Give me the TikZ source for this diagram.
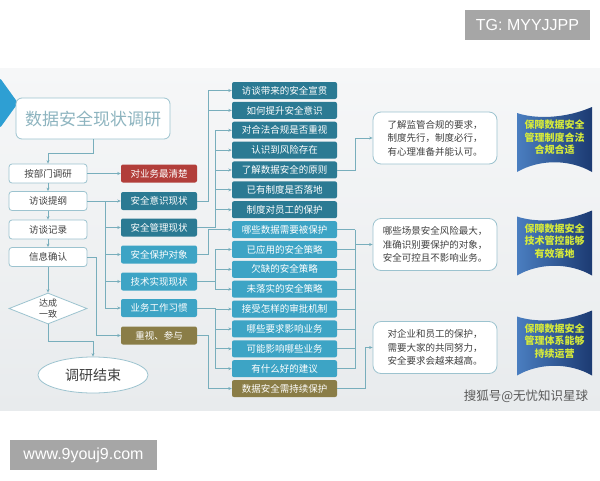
\documentclass[tikz,border=0pt]{standalone}
\usepackage{fontspec}
\setmainfont{Liberation Sans}
\newfontfamily\cjk{Noto Sans CJK SC}
\usetikzlibrary{shapes.geometric,arrows.meta}

\definecolor{darkteal}{HTML}{2B7A93}
\definecolor{liteteal}{HTML}{3DA4C5}
\definecolor{olivebox}{HTML}{8A7D47}
\definecolor{brickred}{HTML}{B23E3A}
\definecolor{lineteal}{HTML}{78AEBC}
\definecolor{boxedge}{HTML}{9CC3CF}
\definecolor{titletext}{HTML}{8DB4BF}
\definecolor{bannerdark}{HTML}{1C3A72}
\definecolor{bannerlite}{HTML}{4A7EC0}
\definecolor{bannertext}{HTML}{D6EA3A}
\definecolor{markgray}{HTML}{A6A6A6}
\definecolor{chevblue}{HTML}{2E9FD3}
\definecolor{panetop}{HTML}{F6F7F8}
\definecolor{panebot}{HTML}{E8EBED}

\tikzset{
	flowbox/.style={draw=boxedge, fill=white, line width=0.8pt, rounded corners=3pt,
		minimum width=78pt, minimum height=19pt, inner sep=0pt,
		font=\cjk\fontsize{9.5}{10}\selectfont, text=black!75},
	catbox/.style={rounded corners=2pt, minimum width=76pt, minimum height=18pt, inner sep=0pt,
		font=\cjk\fontsize{9.5}{10}\selectfont, text=white},
	itembox/.style={rounded corners=2pt, minimum width=105pt, minimum height=17pt, inner sep=0pt,
		font=\cjk\fontsize{9.5}{10}\selectfont, text=white},
	notebox/.style={draw=boxedge, fill=white, line width=0.8pt, rounded corners=8pt,
		minimum width=124pt, minimum height=52pt, align=left,
		font=\cjk\fontsize{9.5}{13.5}\selectfont, text=black!75},
	bannertxt/.style={align=center, font=\cjk\bfseries\fontsize{10}{12.5}\selectfont, text=bannertext},
	markbox/.style={fill=markgray, text=white, minimum height=30pt, inner sep=0pt,
		font=\fontsize{16}{16}\selectfont},
	link/.style={draw=lineteal, line width=0.8pt},
	arr/.style={link, -{Stealth[length=3.5pt,width=3pt]}},
	banner/.pic={
		\shade[left color=bannerlite, right color=bannerdark]
			(-37.5,-26) .. controls (-20,-20) and (10,-20) .. (37.5,-32)
			-- (37.5,33) .. controls (15,20) and (-15,20) .. (-37.5,33) -- cycle;
	}
}

\begin{document}
\begin{tikzpicture}[x=1pt,y=-1pt]
	\useasboundingbox (0,0) rectangle (600,480);
	\shade[top color=panetop, bottom color=panebot] (0,68) rectangle (600,410);
	\fill[chevblue, rounded corners=2pt] (0,78) -- (18,103) -- (0,128) -- cycle;

	% left column
	\node[draw=boxedge, fill=white, line width=0.8pt, rounded corners=6pt,
		minimum width=154pt, minimum height=41pt,
		font=\cjk\fontsize{17}{17}\selectfont, text=titletext] (title) at (93,118.5) {数据安全现状调研};
	\node[flowbox] (dept) at (48,173.5) {按部门调研};
	\node[flowbox] (outline) at (48,201) {访谈提纲};
	\node[flowbox] (record) at (48,229.5) {访谈记录};
	\node[flowbox] (confirm) at (48,257) {信息确认};
	\node[draw=boxedge, fill=white, line width=0.8pt, shape=diamond, aspect=2.5,
		minimum width=78pt, minimum height=31pt, inner sep=0pt, align=center,
		font=\cjk\fontsize{9}{10.5}\selectfont, text=black!75] (agree) at (48,308.5) {达成\\一致};
	\node[draw=boxedge, fill=white, line width=0.8pt, shape=ellipse,
		minimum width=110pt, minimum height=36pt, inner sep=0pt,
		font=\cjk\fontsize{14}{14}\selectfont, text=black!75] (finish) at (93,375) {调研结束};

	% categories
	\node[catbox, fill=brickred] (clear) at (159,173.5) {对业务最清楚};
	\node[catbox, fill=darkteal] (aware) at (159,201) {安全意识现状};
	\node[catbox, fill=darkteal] (manage) at (159,227.5) {安全管理现状};
	\node[catbox, fill=liteteal] (protect) at (159,254.5) {安全保护对象};
	\node[catbox, fill=liteteal] (tech) at (159,281.5) {技术实现现状};
	\node[catbox, fill=liteteal] (habit) at (159,308) {业务工作习惯};
	\node[catbox, fill=olivebox] (value) at (159,335.5) {重视、参与};

	% items
	\foreach \txt/\col [count=\i] in {访谈带来的安全宣贯/darkteal, 如何提升安全意识/darkteal,
		对合法合规是否重视/darkteal, 认识到风险存在/darkteal, 了解数据安全的原则/darkteal,
		已有制度是否落地/darkteal, 制度对员工的保护/darkteal, 哪些数据需要被保护/liteteal,
		已应用的安全策略/liteteal, 欠缺的安全策略/liteteal, 未落实的安全策略/liteteal,
		接受怎样的审批机制/liteteal, 哪些要求影响业务/liteteal, 可能影响哪些业务/liteteal,
		有什么好的建议/liteteal, 数据安全需持续保护/olivebox} {
		\node[itembox, fill=\col] (item\i) at (284.5, 70.63+19.87*\i) {\txt};
	}

	% notes
	\node[notebox] (note1) at (435,138) {了解监管合规的要求，\\制度先行，制度必行，\\有心理准备并能认可。};
	\node[notebox] (note2) at (435,244.5) {哪些场景安全风险最大，\\准确识别要保护的对象，\\安全可控且不影响业务。};
	\node[notebox] (note3) at (435,347.5) {对企业和员工的保护，\\需要大家的共同努力，\\安全要求会越来越高。};

	% banners
	\pic at (554.5,139) {banner};
	\pic at (554.5,242.5) {banner};
	\pic at (554.5,342.5) {banner};
	\node[bannertxt] (goal1) at (554.5,137.5) {保障数据安全\\管理制度合法\\合规合适};
	\node[bannertxt] (goal2) at (554.5,241) {保障数据安全\\技术管控能够\\有效落地};
	\node[bannertxt] (goal3) at (554.5,341) {保障数据安全\\管理体系能够\\持续运营};

	% left flow links
	\draw[arr] (title.south) -- ++(0,14) -| (dept.north);
	\draw[arr] (dept) -- (outline);
	\draw[arr] (outline) -- (record);
	\draw[arr] (record) -- (confirm);
	\draw[arr] (confirm) -- (agree);
	\draw[arr] (agree.south) -- ++(0,17) -| (finish.north);
	\draw[arr] (dept) -- (clear);

	\coordinate (lbus) at (105,0);
	\draw[link] (outline.east) -- (lbus |- outline.east) -- (lbus |- habit.west);
	\foreach \c in {aware,manage,protect,tech,habit}
		\draw[arr] (lbus |- \c.west) -- (\c.west);
	\draw[arr] (confirm.east) -- ++(9,0) |- (value.west);

	% categories to items
	\coordinate (bus1) at (208,0);
	\coordinate (bus2) at (215,0);
	\draw[link] (aware.east) -| (bus1 |- item1.west);
	\foreach \i in {1,2}
		\draw[arr] (bus1 |- item\i.west) -- (item\i.west);
	\draw[link] (manage.east) -| (bus2 |- item3.west);
	\foreach \i in {3,...,7}
		\draw[arr] (bus2 |- item\i.west) -- (item\i.west);
	\draw[arr] (protect.east) -| (bus1 |- item8.west) -- (item8.west);
	\draw[link] (tech.east) -- (bus2 |- tech.east);
	\draw[link] (bus2 |- item9.west) -- (bus2 |- item11.west);
	\foreach \i in {9,10,11}
		\draw[arr] (bus2 |- item\i.west) -- (item\i.west);
	\draw[link] (habit.east) -- (bus2 |- habit.east) -- (bus2 |- item15.west);
	\foreach \i in {12,...,15}
		\draw[arr] (bus2 |- item\i.west) -- (item\i.west);
	\draw[arr] (value.east) -- (bus1 |- value.east) |- (item16.west);

	% items to notes
	\coordinate (rbus) at (355,0);
	\draw[arr] (item5.east) -- (rbus |- item5.east) |- (note1.west);
	\foreach \i in {8,...,15}
		\draw[link] (item\i.east) -- (rbus |- item\i.east);
	\draw[link] (rbus |- item8.east) -- (rbus |- item15.east);
	\draw[arr] (rbus |- note2.west) -- (note2.west);
	\draw[arr] (item16.east) -- ++(28,0) |- (note3.west);

	% marks
	\node[markbox, minimum width=125pt] (tg) at (527.5,25) {TG: MYYJJPP};
	\node[markbox, minimum width=147pt] (web) at (83.5,455) {www.9youj9.com};
	\node[font=\cjk\fontsize{12.5}{12.5}\selectfont, text=black!65] (sohu) at (526,396) {搜狐号@无忧知识星球};
\end{tikzpicture}
\end{document}
